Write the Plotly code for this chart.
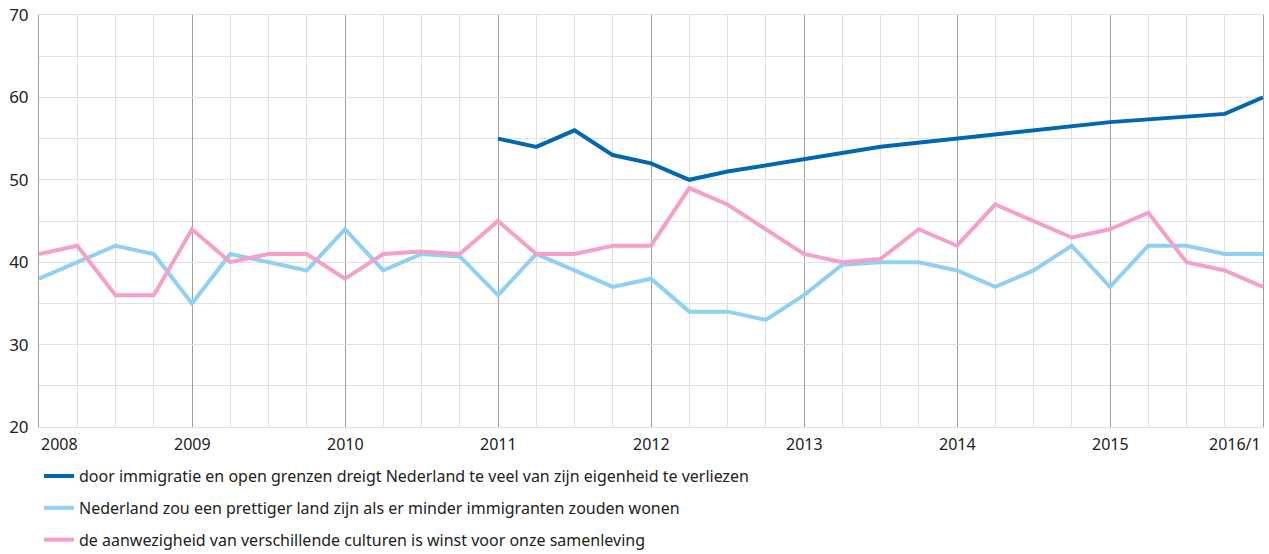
import plotly.graph_objects as go

# kwartalen 2008/1 t/m 2016/1
kwartalen = [f"{jaar}/{k}" for jaar in range(2008, 2016) for k in range(1, 5)] + ["2016/1"]
jaar_labels = ["2008", "2009", "2010", "2011", "2012", "2013", "2014", "2015", "2016/1"]

# door immigratie en open grenzen ... (gemeten vanaf 2011)
eigenheid = [None] * 12 + [
    55, 54, 56, 53,
    52, 50, 51, None,
    None, None, 54, None,
    None, None, None, None,
    57, None, None, 58,
    60,
]

# Nederland zou een prettiger land zijn ...
prettiger = [
    38, 40, 42, 41,
    35, 41, 40, 39,
    44, 39, 41, 40.7,
    36, 41, 39, 37,
    38, 34, 34, 33,
    36, 39.7, 40, 40,
    39, 37, 39, 42,
    37, 42, 42, 41,
    41,
]

# de aanwezigheid van verschillende culturen ...
culturen = [
    41, 42, 36, 36,
    44, 40, 41, 41,
    38, 41, 41.3, 41,
    45, 41, 41, 42,
    42, 49, 47, 44,
    41, 40, 40.4, 44,
    42, 47, 45, 43,
    44, 46, 40, 39,
    37,
]

namen = [
    "door immigratie en open grenzen dreigt Nederland te veel van zijn eigenheid te verliezen",
    "Nederland zou een prettiger land zijn als er minder immigranten zouden wonen",
    "de aanwezigheid van verschillende culturen is winst voor onze samenleving",
]
kleuren = ["#0067b1", "#90d0f2", "#f4a0c8"]

x = list(range(len(kwartalen)))

fig = go.Figure()
for i, (naam, reeks, kleur) in enumerate(zip(namen, [eigenheid, prettiger, culturen], kleuren)):
    fig.add_trace(go.Scatter(
        x=x, y=reeks, name=naam, mode="lines",
        line=dict(color=kleur, width=4),
        connectgaps=True,
        legendgroup=f"g{i}",
        hovertext=kwartalen,
    ))

font = "Noto Sans"
tekst = "#222222"

# jaartallen onder de as (eerste links, laatste rechts uitgelijnd)
for i, lab in enumerate(jaar_labels):
    anchor = "center"
    if i == 0:
        anchor = "left"
    elif i == len(jaar_labels) - 1:
        anchor = "right"
    fig.add_annotation(
        x=x[i * 4], y=0, xref="x", yref="paper",
        text=lab, showarrow=False, xanchor=anchor, yanchor="top",
        yshift=-4, font=dict(family=font, size=16, color=tekst),
    )

fig.update_layout(
    width=1269, height=554,
    margin=dict(l=39, r=6, t=15, b=127, autoexpand=False),
    plot_bgcolor="white", paper_bgcolor="white",
    font=dict(family=font, size=16, color=tekst),
    showlegend=True,
    legend=dict(
        x=0, y=-0.078, xanchor="left", yanchor="top",
        orientation="v", font=dict(family=font, size=16, color=tekst),
        itemwidth=30, tracegroupgap=8,
    ),
    xaxis=dict(
        range=[0, 32], tickmode="linear", tick0=0, dtick=4,
        showticklabels=False, ticks="", automargin=False,
        showgrid=True, gridcolor="#a39d9d", gridwidth=1,
        minor=dict(dtick=1, tick0=0, showgrid=True, gridcolor="#e1e1e1", gridwidth=1),
        zeroline=False,
        showline=True, linecolor="#e1e1e1", linewidth=1, mirror=True,
    ),
    yaxis=dict(
        range=[20, 70], tickmode="linear", tick0=20, dtick=10,
        showgrid=True, gridcolor="#e1e1e1", gridwidth=1,
        minor=dict(dtick=5, tick0=20, showgrid=True, gridcolor="#e1e1e1", gridwidth=1),
        zeroline=False, ticks="", ticklabelstandoff=6, automargin=False,
        tickfont=dict(family=font, size=17, color=tekst),
        showline=True, linecolor="#a39d9d", linewidth=1, mirror=True,
    ),
)

fig.write_html(
    "out.html",
    config={"displayModeBar": False},
    post_script="document.body.style.margin='0';",
)
